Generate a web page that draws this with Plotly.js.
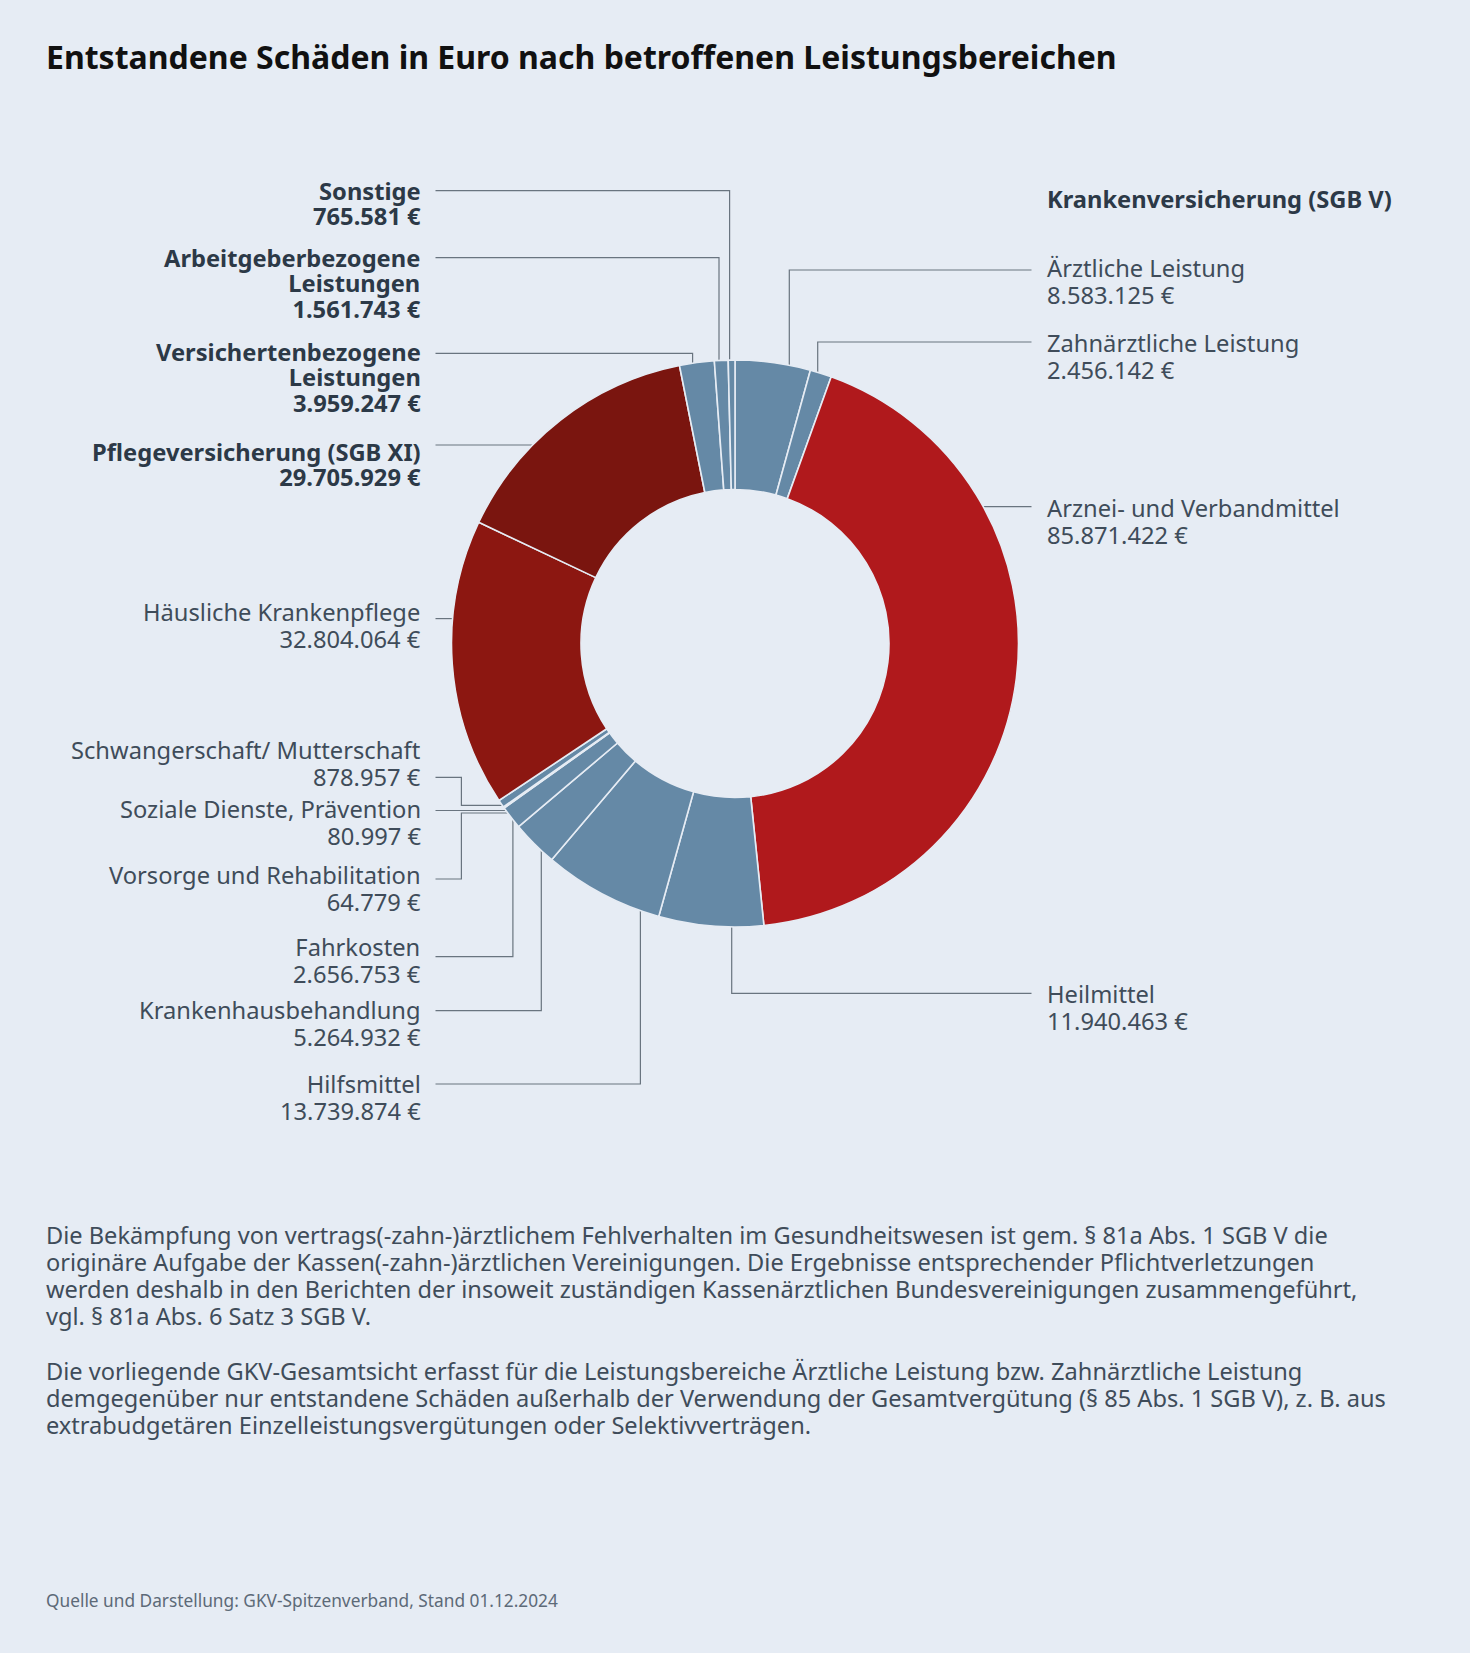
<!DOCTYPE html>
<html>
<head>
<meta charset="utf-8">
<script src="https://cdn.plot.ly/plotly-3.0.1.min.js"></script>
<style>
  html, body { margin: 0; padding: 0; background: #e6ecf4; }
  #chart { width: 1470px; height: 1653px; }
</style>
</head>
<body>
<div id="chart"></div>
<script>
// ---------------- DATA ----------------
const categories = [
  'Ärztliche Leistung', 'Zahnärztliche Leistung', 'Arznei- und Verbandmittel', 'Heilmittel',
  'Hilfsmittel', 'Krankenhausbehandlung', 'Fahrkosten', 'Vorsorge und Rehabilitation',
  'Soziale Dienste, Prävention', 'Schwangerschaft/ Mutterschaft', 'Häusliche Krankenpflege',
  'Pflegeversicherung (SGB XI)', 'Versichertenbezogene Leistungen', 'Arbeitgeberbezogene Leistungen', 'Sonstige'
];
const values = [
  8583125, 2456142, 85871422, 11940463,
  13739874, 5264932, 2656753, 64779,
  80997, 878957, 32804064,
  29705929, 3959247, 1561743, 765581
];
// label text as printed (line breaks)
const labelLines = [
  ['Ärztliche Leistung'], ['Zahnärztliche Leistung'], ['Arznei- und Verbandmittel'], ['Heilmittel'],
  ['Hilfsmittel'], ['Krankenhausbehandlung'], ['Fahrkosten'], ['Vorsorge und Rehabilitation'],
  ['Soziale Dienste, Prävention'], ['Schwangerschaft/ Mutterschaft'], ['Häusliche Krankenpflege'],
  ['Pflegeversicherung (SGB XI)'], ['Versichertenbezogene', 'Leistungen'], ['Arbeitgeberbezogene', 'Leistungen'], ['Sonstige']
];
const groupHeader = 'Krankenversicherung (SGB V)';
const titleText = 'Entstandene Schäden in Euro nach betroffenen Leistungsbereichen';
const notes1 = [
  'Die Bekämpfung von vertrags(-zahn-)ärztlichem Fehlverhalten im Gesundheitswesen ist gem. § 81a Abs. 1 SGB V die',
  'originäre Aufgabe der Kassen(-zahn-)ärztlichen Vereinigungen. Die Ergebnisse entsprechender Pflichtverletzungen',
  'werden deshalb in den Berichten der insoweit zuständigen Kassenärztlichen Bundesvereinigungen zusammengeführt,',
  'vgl. § 81a Abs. 6 Satz 3 SGB V.'
];
const notes2 = [
  'Die vorliegende GKV-Gesamtsicht erfasst für die Leistungsbereiche Ärztliche Leistung bzw. Zahnärztliche Leistung',
  'demgegenüber nur entstandene Schäden außerhalb der Verwendung der Gesamtvergütung (§ 85 Abs. 1 SGB V), z. B. aus',
  'extrabudgetären Einzelleistungsvergütungen oder Selektivverträgen.'
];
const sourceText = 'Quelle und Darstellung: GKV-Spitzenverband, Stand 01.12.2024';

// ---------------- STYLE / LAYOUT ----------------
const W = 1470, H = 1653;
const BG = '#e6ecf4';
const FONT = 'Noto Sans, Open Sans, sans-serif';
const BLUE = '#6589a6';
const sliceColors = values.map((v, i) => i === 2 ? '#b0191c' : i === 10 ? '#8c1711' : i === 11 ? '#7a150f' : BLUE);
const boldSet = [11, 12, 13, 14];
const cx = 735, cy = 643.5, R = 283.5, RIN = 154;

// label placement (pixels): side, first baseline, connector
const labelPos = [
  {side: 'R', base: 276,   c: {t: 'v', y: 270,   vx: 789.3}},
  {side: 'R', base: 351,   c: {t: 'v', y: 342,   vx: 817.7}},
  {side: 'R', base: 516.5, c: {t: 'h', y: 506.7}},
  {side: 'R', base: 1001.7,c: {t: 'v', y: 993.3, vx: 731.7}},
  {side: 'L', base: 1092.5,c: {t: 'v', y: 1084,  vx: 640.4}},
  {side: 'L', base: 1018.5,c: {t: 'v', y: 1010.7,vx: 541.3}},
  {side: 'L', base: 955,   c: {t: 'v', y: 956.7, vx: 512.9}},
  {side: 'L', base: 883.5, c: {t: 'hvh', y: 879, ex: 461.4, y2: 813}},
  {side: 'L', base: 816.7, c: {t: 'h', y: 810.5}},
  {side: 'L', base: 758.3, c: {t: 'hvh', y: 777.3, ex: 461.4, y2: 805.3}},
  {side: 'L', base: 620,   c: {t: 'h', y: 618.6}},
  {side: 'L', base: 460.5, c: {t: 'h', y: 445}},
  {side: 'L', base: 359.8, c: {t: 'v', y: 353.3, vx: 692.6}},
  {side: 'L', base: 266,   c: {t: 'v', y: 257.7, vx: 719}},
  {side: 'L', base: 199.3, c: {t: 'v', y: 190.7, vx: 729.6}}
];
const BASE_SHIFT = 1.2;
const LEFT_TEXT_X = 421, RIGHT_TEXT_X = 1047;
const LEFT_LINE_X = 435.5, RIGHT_LINE_X = 1031.5;
const LABEL_FS = 23.7, LINE_STEP = 26.6, BOLD_STEP = 25.3;
const ASC = 1.069; // font ascent (em)

const px = x => x / W;
const py = y => 1 - y / H;
const fmt = v => v.toString().replace(/\B(?=(\d{3})+(?!\d))/g, '.') + ' €';

function ringX(y, side) {
  const d = Math.sqrt(Math.max(0, R * R - (y - cy) * (y - cy)));
  return side === 'L' ? cx - d : cx + d;
}
function ringY(x, y) {
  const d = Math.sqrt(Math.max(0, R * R - (x - cx) * (x - cx)));
  return y < cy ? cy - d : cy + d;
}

const annotations = [];
const shapes = [];
// multi-line text block: glyph size fs, baseline-to-baseline step, first baseline
function addBlock(lines, x, baseline, fs, step, color, anchor, bold) {
  const st = 'font-size:' + fs + 'px' + (bold ? ';font-weight:bold' : '');
  annotations.push({
    text: lines.map(l => '<span style="' + st + '">' + l + '</span>').join('<br>'),
    x: px(x), y: py(baseline - ASC * fs),
    xref: 'paper', yref: 'paper', xanchor: anchor, yanchor: 'top',
    showarrow: false, borderpad: 0, borderwidth: 0, align: anchor,
    font: {family: FONT, size: step / 1.3, color: color}
  });
}

categories.forEach((cat, i) => {
  const p = labelPos[i];
  const bold = boldSet.includes(i);
  const lines = labelLines[i].concat([fmt(values[i])]);
  const step = bold ? BOLD_STEP : LINE_STEP;
  const color = bold ? '#2c3947' : '#3f4c5a';
  addBlock(lines, p.side === 'L' ? LEFT_TEXT_X : RIGHT_TEXT_X, p.base + BASE_SHIFT, LABEL_FS, step, color,
           p.side === 'L' ? 'right' : 'left', bold);
  // connector
  const sx = p.side === 'L' ? LEFT_LINE_X : RIGHT_LINE_X;
  const c = p.c;
  let pts;
  if (c.t === 'v') pts = [[sx, c.y], [c.vx, c.y], [c.vx, ringY(c.vx, c.y)]];
  else if (c.t === 'h') pts = [[sx, c.y], [ringX(c.y, p.side), c.y]];
  else pts = [[sx, c.y], [c.ex, c.y], [c.ex, c.y2], [ringX(c.y2, p.side), c.y2]];
  const path = pts.map((q, k) => (k ? 'L' : 'M') + px(q[0]).toFixed(6) + ',' + py(q[1]).toFixed(6)).join(' ');
  shapes.push({type: 'path', path: path, xref: 'paper', yref: 'paper',
               line: {color: '#69747f', width: 1.2}, layer: 'below'});
});

addBlock([groupHeader], RIGHT_TEXT_X, 208.5, LABEL_FS, BOLD_STEP, '#2c3947', 'left', true);
addBlock(notes1, 46, 1244, 23.6, 27, '#3f4c5a', 'left', false);
addBlock(notes2, 46, 1380.7, 23.6, 27, '#3f4c5a', 'left', false);
addBlock([sourceText], 46, 1607.7, 17.3, 22, '#5d6a78', 'left', false);

const trace = {
  type: 'pie',
  labels: categories,
  values: values,
  sort: false,
  direction: 'clockwise',
  rotation: 0,
  hole: RIN / R,
  textinfo: 'none',
  hoverinfo: 'label+value',
  showlegend: false,
  marker: {colors: sliceColors, line: {color: BG, width: 1.6}},
  domain: {x: [px(cx - R), px(cx + R)], y: [py(cy + R), py(cy - R)]}
};

const layout = {
  width: W, height: H,
  margin: {l: 0, r: 0, t: 0, b: 0},
  paper_bgcolor: BG, plot_bgcolor: BG,
  title: {
    text: '<b>' + titleText + '</b>',
    x: px(46), y: py(69 - 0.35 * 32), xref: 'paper', yref: 'paper',
    xanchor: 'left', yanchor: 'middle',
    font: {family: FONT, size: 32, color: '#111111'}
  },
  showlegend: false,
  annotations: annotations,
  shapes: shapes
};

Plotly.newPlot('chart', [trace], layout, {displayModeBar: false, staticPlot: true});
</script>
</body>
</html>
